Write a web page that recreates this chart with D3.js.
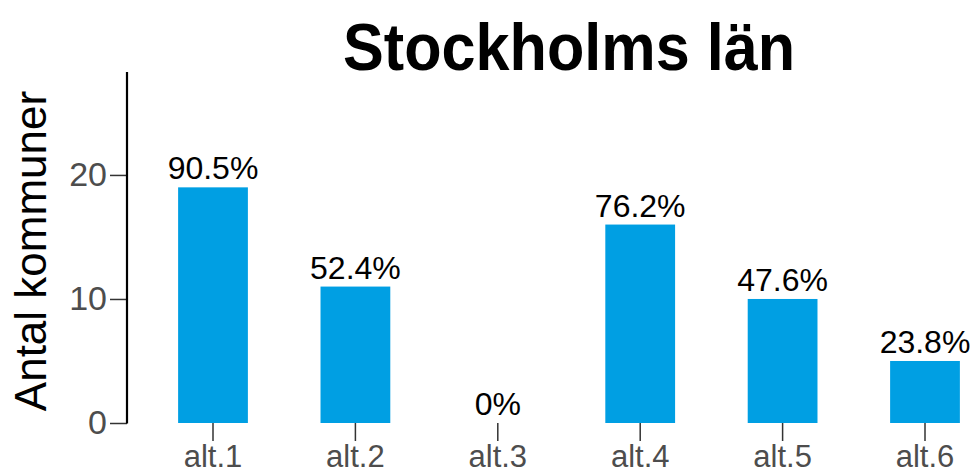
<!DOCTYPE html>
<html>
<head>
<meta charset="utf-8">
<script src="https://cdn.jsdelivr.net/npm/d3@7"></script>
<style>
  html, body { margin: 0; padding: 0; background: #fff; }
  svg { display: block; font-family: "Liberation Sans", Arial, Helvetica, sans-serif; }
</style>
</head>
<body>
<svg id="chart" width="978" height="473"></svg>
<script>
const categories = ["alt.1", "alt.2", "alt.3", "alt.4", "alt.5", "alt.6"];
const counts = [19, 11, 0, 16, 10, 5];
const percentLabels = ["90.5%", "52.4%", "0%", "76.2%", "47.6%", "23.8%"];
const yTicks = [0, 10, 20];
const titleText = "Stockholms län";
const yTitle = "Antal kommuner";

const svg = d3.select("#chart");

const y = d3.scaleLinear().domain([0, 28.3]).range([423, 72]);
const x = d3.scaleBand().domain(categories).range([141.8, 996.2])
  .paddingInner(0.51).paddingOuter(0.255);

// bars
svg.append("g").selectAll("rect")
  .data(categories)
  .join("rect")
  .attr("x", d => x(d))
  .attr("width", x.bandwidth())
  .attr("y", (d, i) => y(counts[i]))
  .attr("height", (d, i) => y(0) - y(counts[i]))
  .attr("fill", "#009FE3");

// value labels
svg.append("g").selectAll("text")
  .data(categories)
  .join("text")
  .attr("x", d => x(d) + x.bandwidth() / 2)
  .attr("y", (d, i) => y(counts[i]) - 8)
  .attr("text-anchor", "middle")
  .attr("font-size", 32)
  .attr("fill", "#000")
  .text((d, i) => percentLabels[i]);

// y axis
const yAxis = svg.append("g")
  .attr("transform", "translate(127,0)")
  .call(d3.axisLeft(y).tickValues(yTicks).tickSize(17).tickPadding(3).tickSizeOuter(0));
yAxis.select(".domain").remove();
yAxis.append("line")
  .attr("x1", 0).attr("x2", 0)
  .attr("y1", y.range()[1]).attr("y2", y(0) + 0.5)
  .attr("stroke", "#000").attr("stroke-width", 2.2);
yAxis.selectAll(".tick line").attr("stroke", "#333").attr("stroke-width", 1.5);
yAxis.selectAll(".tick text")
  .attr("font-size", 34).attr("fill", "#4d4d4d")
  .attr("font-family", "Liberation Sans, Arial, sans-serif");

// x axis
const xAxis = svg.append("g")
  .attr("transform", "translate(0,423)")
  .call(d3.axisBottom(x).tickSize(18).tickPadding(4).tickSizeOuter(0));
xAxis.select(".domain").remove();
xAxis.selectAll(".tick line").attr("stroke", "#333").attr("stroke-width", 1.5);
xAxis.selectAll(".tick text")
  .attr("font-size", 31).attr("fill", "#4d4d4d")
  .attr("font-family", "Liberation Sans, Arial, sans-serif");

// y title
svg.append("text")
  .attr("transform", "translate(46,251) rotate(-90)")
  .attr("text-anchor", "middle")
  .attr("font-size", 44)
  .attr("fill", "#000")
  .text(yTitle);

// title
svg.append("text")
  .attr("x", 569)
  .attr("y", 70)
  .attr("text-anchor", "middle")
  .attr("font-size", 66)
  .attr("font-weight", "bold")
  .attr("fill", "#000")
  .attr("textLength", 452)
  .attr("lengthAdjust", "spacingAndGlyphs")
  .text(titleText);
</script>
</body>
</html>
